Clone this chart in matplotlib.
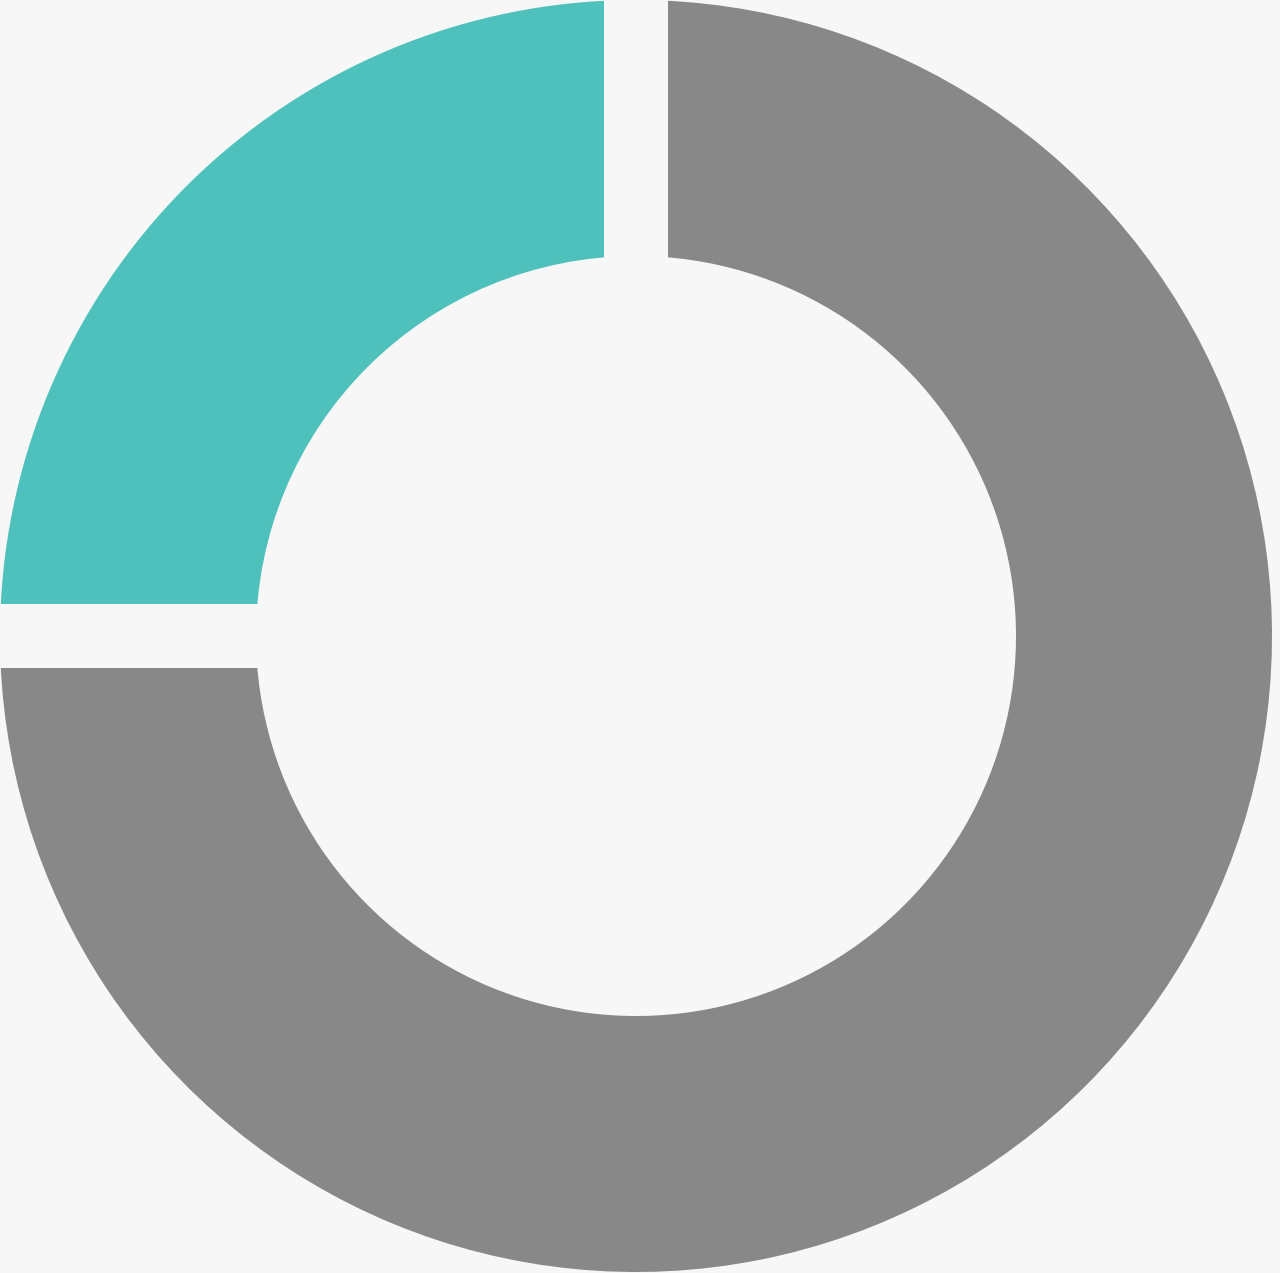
import matplotlib
matplotlib.use("Agg")
import matplotlib.pyplot as plt

# donut data
labels = ["Teal", "Gray"]
values = [25, 75]
colors = ["#4fc1bd", "#888888"]
bg = "#f7f7f7"

W, H = 1280, 1273
fig = plt.figure(figsize=(W / 100, H / 100), dpi=100, facecolor=bg)
ax = fig.add_axes([0, 0, 1, 1])
ax.set_facecolor(bg)

gap_px = 64
lw = gap_px * 72 / 100  # stroke in points
ax.pie(values, colors=colors, startangle=90, counterclock=True,
       center=(636, 637), radius=636 + gap_px / 2,
       wedgeprops=dict(width=256 + gap_px, edgecolor=bg, linewidth=lw))
ax.set_xlim(0, W)
ax.set_ylim(0, H)
ax.set_aspect("equal")
ax.axis("off")

fig.savefig("out.png", dpi=100, facecolor=bg)
